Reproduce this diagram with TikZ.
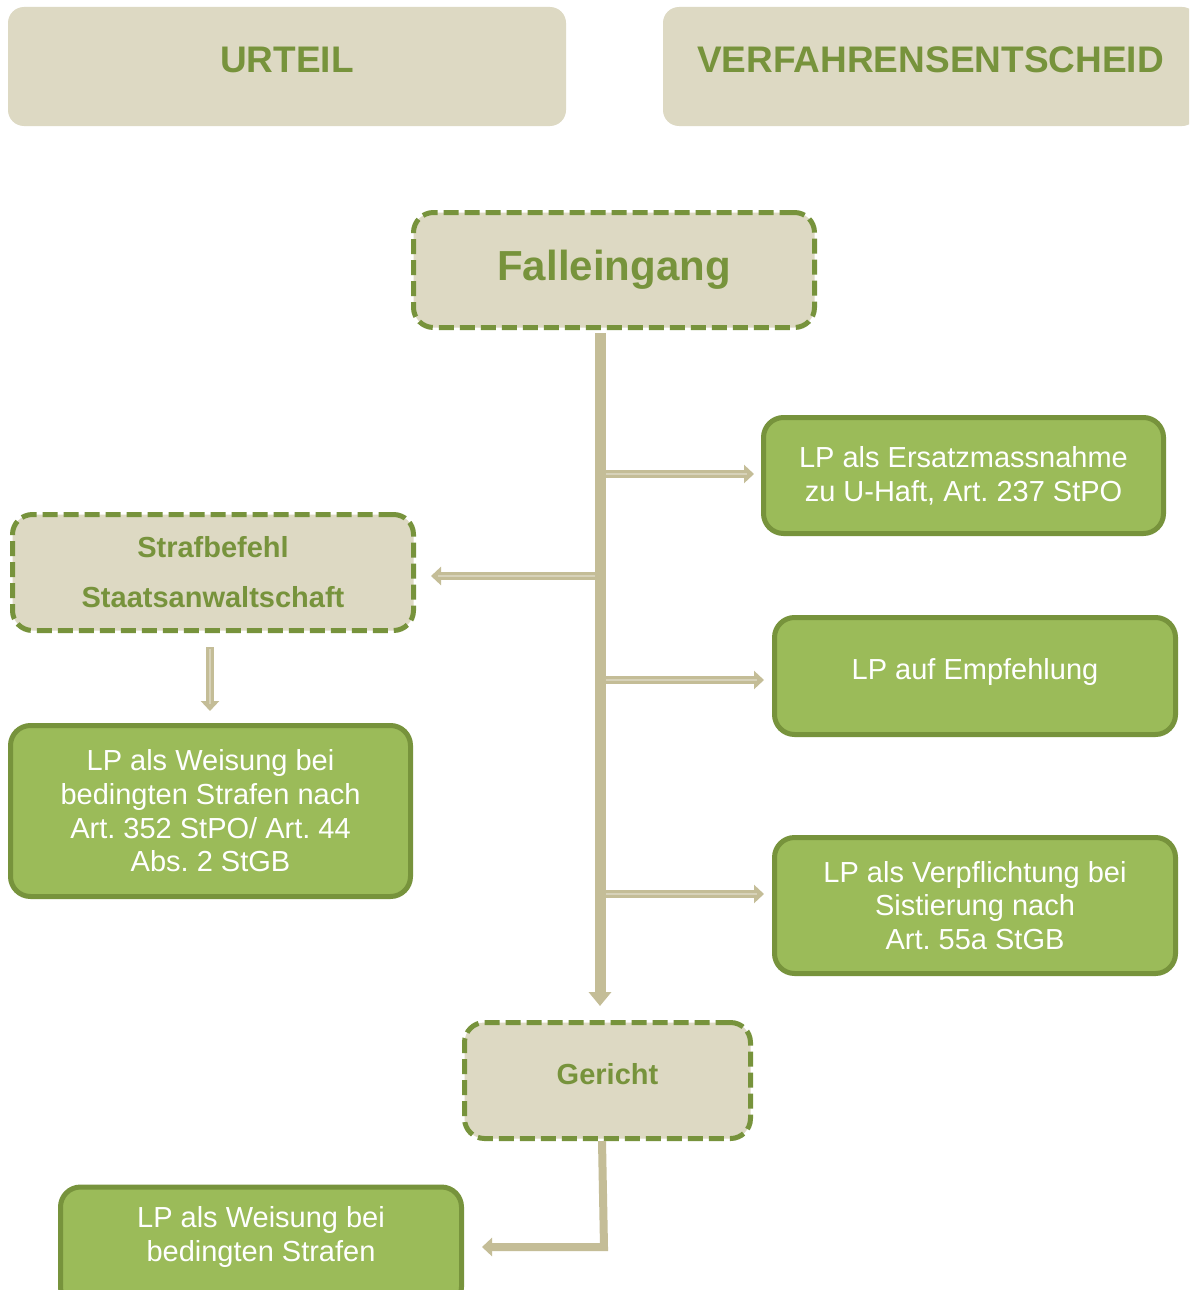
\documentclass[tikz,border=0pt]{standalone}
\usepackage{fontspec}
\setmainfont{Liberation Sans}
\usetikzlibrary{arrows.meta}
\definecolor{beige}{HTML}{DDD9C3}
\definecolor{olive}{HTML}{77933C}
\definecolor{lgreen}{HTML}{9BBB59}
\definecolor{arrowc}{HTML}{C4BD97}
\definecolor{stripec}{HTML}{D7D2B9}
\frenchspacing
\tikzset{
 headbox/.style={fill=beige, rounded corners=16pt, text=olive, inner sep=0pt, font=\fontsize{37}{44}\selectfont\bfseries, text depth=13pt},
 dashbox/.style={fill=beige, draw=olive, line width=5pt, dash pattern=on 15pt off 6pt, rounded corners=20pt, text=olive, inner sep=0pt, align=center},
 greenbox/.style={fill=lgreen, draw=olive, line width=5pt, rounded corners=20pt, text=white, inner sep=0pt, align=center, font=\fontsize{29}{33.7}\selectfont},
 trunk/.style={draw=arrowc, line width=11pt, -{Triangle[width=22pt,length=14pt]}},
 branch/.style={draw=arrowc, line width=8pt, -{Triangle[width=18pt,length=10pt]}},
 stripe/.style={draw=stripec, line width=2.5pt},
}
\begin{document}
\begin{tikzpicture}[x=1pt,y=-1pt]
\clip (0,0) rectangle (1189,1290);
\fill[white] (0,0) rectangle (1189,1290);

\node[headbox, minimum width=558pt, minimum height=119pt] (urteil) at (287,66.5) {URTEIL};
\node[headbox, minimum width=535pt, minimum height=119pt] (verf) at (930.5,66.5) {VERFAHRENSENTSCHEID};

\node[dashbox, minimum width=401pt, minimum height=115pt, font=\fontsize{42}{50}\selectfont\bfseries] (fall) at (614,270) {Falleingang};

\node[greenbox, minimum width=400pt, minimum height=116pt] (ersatz) at (963.5,475.5) {LP als Ersatzmassnahme\\zu U-Haft, Art. 237 StPO};

\node[dashbox, minimum width=401pt, minimum height=116pt, font=\fontsize{29}{50}\selectfont\bfseries] (straf) at (213,572.5) {Strafbefehl\\Staatsanwaltschaft};

\node[greenbox, minimum width=401pt, minimum height=117pt, text depth=14pt] (empf) at (975,676) {LP auf Empfehlung};

\node[greenbox, minimum width=400pt, minimum height=171pt] (weis) at (210.5,811) {LP als Weisung bei\\bedingten Strafen nach\\Art. 352 StPO/ Art. 44\\Abs. 2 StGB};

\node[greenbox, minimum width=401pt, minimum height=136pt] (verpf) at (975,905.5) {LP als Verpflichtung bei\\Sistierung nach\\Art. 55a StGB};

\node[dashbox, minimum width=286pt, minimum height=116pt, font=\fontsize{29}{35}\selectfont\bfseries, text depth=14pt] (ger) at (607.5,1080.5) {Gericht};

\node[greenbox, minimum width=401pt, minimum height=120pt, text depth=26pt] (bed) at (261,1247) {LP als Weisung bei\\bedingten Strafen};

% connectors
\path (fall.south) ++(-14pt,0) coordinate (ts);
\coordinate (b1) at (600,474);
\coordinate (b2) at (600,576);
\coordinate (b3) at (600,680);
\coordinate (b4) at (600,894);
\coordinate (g1) at (604,1247);

\draw[branch, shorten >=7pt] (b1) -- (ersatz.west |- b1);
\draw[stripe, shorten >=14pt] (b1) -- (ersatz.west |- b1);
\draw[branch, shorten >=15pt] (b2) -- (straf.east |- b2);
\draw[stripe, shorten >=22pt] (b2) -- (straf.east |- b2);
\draw[branch, shorten >=8pt] (b3) -- (empf.west |- b3);
\draw[stripe, shorten >=15pt] (b3) -- (empf.west |- b3);
\draw[branch, shorten >=8pt] (b4) -- (verpf.west |- b4);
\draw[stripe, shorten >=15pt] (b4) -- (verpf.west |- b4);
\draw[trunk, shorten <=3pt, shorten >=14pt] (ts) -- (ger.north -| ts);

\draw[branch, shorten <=14pt, shorten >=12pt] ([xshift=-3pt]straf.south) -- ([xshift=-3pt]straf.south |- weis.north);
\draw[stripe, shorten <=16pt, shorten >=19pt] ([xshift=-3pt]straf.south) -- ([xshift=-3pt]straf.south |- weis.north);
\draw[branch, shorten >=18pt] ([xshift=-5.5pt]ger.south) -- (g1) -- (bed.east |- g1);
\end{tikzpicture}
\end{document}
